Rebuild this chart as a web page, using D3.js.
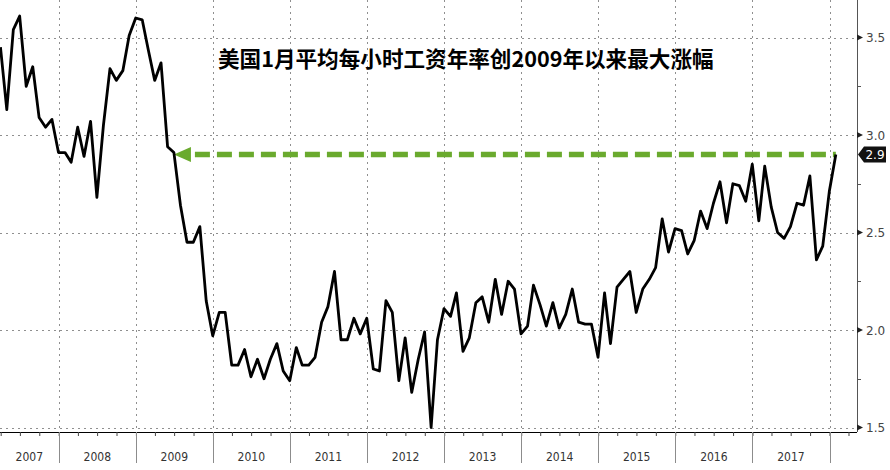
<!DOCTYPE html>
<html>
<head>
<meta charset="utf-8">
<script src="https://cdn.jsdelivr.net/npm/d3@7"></script>
<style>
  body { margin: 0; background: #fff; }
  svg { display: block; }
</style>
</head>
<body>
<svg id="chart" width="890" height="470"></svg>
<script>
// monthly series, first point is March 2007
const firstMonth = "2007-03";
const wages2007 = [3.45, 3.13, 3.54, 3.61, 3.25, 3.35, 3.09, 3.04, 3.08, 2.91];
const wages2008 = [2.91, 2.86, 3.04, 2.89, 3.07, 2.68, 3.05, 3.34, 3.28, 3.33, 3.51, 3.60];
const wages2009 = [3.59, 3.44, 3.28, 3.37, 2.94, 2.91, 2.64, 2.45, 2.45, 2.53, 2.15, 1.97];
const wages2010 = [2.09, 2.09, 1.82, 1.82, 1.90, 1.76, 1.85, 1.75, 1.85, 1.93, 1.79, 1.74];
const wages2011 = [1.91, 1.82, 1.82, 1.86, 2.04, 2.12, 2.30, 1.95, 1.95, 2.06, 1.98, 2.06];
const wages2012 = [1.80, 1.79, 2.15, 2.09, 1.74, 1.96, 1.68, 1.85, 1.99, 1.50, 1.95, 2.11];
const wages2013 = [2.07, 2.19, 1.89, 1.96, 2.14, 2.17, 2.04, 2.26, 2.08, 2.25, 2.21, 1.98];
const wages2014 = [2.02, 2.23, 2.13, 2.02, 2.14, 2.01, 2.08, 2.21, 2.04, 2.03, 2.03, 1.86];
const wages2015 = [2.19, 1.93, 2.22, 2.26, 2.30, 2.09, 2.21, 2.26, 2.32, 2.57, 2.40, 2.52];
const wages2016 = [2.51, 2.39, 2.46, 2.61, 2.52, 2.65, 2.76, 2.55, 2.75, 2.74, 2.66, 2.85];
const wages2017 = [2.56, 2.84, 2.63, 2.50, 2.47, 2.53, 2.65, 2.64, 2.79, 2.36, 2.43, 2.71];
const wages2018 = [2.90];

const yearLabels = ["2007", "2008", "2009", "2010", "2011", "2012", "2013", "2014", "2015", "2016", "2017"];
const yTicks = [1.5, 2.0, 2.5, 3.0, 3.5];
const arrowFrom = "2009-06";   // green arrow starts here
const arrowValue = 2.9;
const title = "美国1月平均每小时工资年率创2009年以来最大涨幅";

const values = [].concat(wages2007, wages2008, wages2009, wages2010, wages2011, wages2012,
  wages2013, wages2014, wages2015, wages2016, wages2017, wages2018);

const parseMonth = d3.timeParse("%Y-%m");
// points sit at the end of each month
const monthEnd = m => new Date(m.getFullYear(), m.getMonth() + 1, 0);
const start = parseMonth(firstMonth);
const data = values.map((v, i) => ({
  date: monthEnd(d3.timeMonth.offset(start, i)),
  value: v
}));

const svg = d3.select('#chart');
const plotRight = 857, plotBottom = 432;

const x = d3.scaleTime()
  .domain([new Date(2008, 0, 1), new Date(2018, 0, 1)])
  .range([58.7, 829.5]);
const y = d3.scaleLinear().domain([1.5, 3.5]).range([427.5, 37.5]);

const years = yearLabels.map(s => +s).concat([2018]).map(yr => new Date(yr, 0, 1));

// dotted grid
const grid = svg.append('g')
  .attr('stroke', '#8f8f8f')
  .attr('stroke-width', 1)
  .attr('stroke-dasharray', '2,4');
grid.selectAll('line.h').data(yTicks).enter().append('line')
  .attr('x1', 0).attr('x2', plotRight)
  .attr('y1', d => Math.round(y(d)) + 0.5).attr('y2', d => Math.round(y(d)) + 0.5);
grid.selectAll('line.v').data(years.filter(d => x(d) > 0)).enter().append('line')
  .attr('x1', d => Math.round(x(d)) + 0.5).attr('x2', d => Math.round(x(d)) + 0.5)
  .attr('y1', 0).attr('y2', plotBottom);

// clip for the line
svg.append('clipPath').attr('id', 'plot')
  .append('rect').attr('x', 0).attr('y', 0).attr('width', plotRight).attr('height', plotBottom);

// green dashed arrow
const ay = y(arrowValue);
const ax0 = x(monthEnd(parseMonth(arrowFrom)));
const ax1 = x(data[data.length - 1].date);
svg.append('line')
  .attr('x1', ax0 + 21).attr('x2', ax1)
  .attr('y1', ay).attr('y2', ay)
  .attr('stroke', '#6aaa2e')
  .attr('stroke-width', 5.5)
  .attr('stroke-dasharray', '15,7');
svg.append('path')
  .attr('d', `M${ax0},${ay} L${ax0 + 17},${ay - 7.5} L${ax0 + 17},${ay + 7.5} Z`)
  .attr('fill', '#6aaa2e');

// series
const line = d3.line().x(d => x(d.date)).y(d => y(d.value));
svg.append('path')
  .datum(data)
  .attr('clip-path', 'url(#plot)')
  .attr('d', line)
  .attr('fill', 'none')
  .attr('stroke', '#000')
  .attr('stroke-width', 2.8)
  .attr('stroke-linejoin', 'round');

// title
svg.append('text')
  .attr('x', 218).attr('y', 67)
  .text(title)
  .style('font-family', '"Noto Sans CJK SC", sans-serif')
  .style('font-weight', 'bold')
  .style('font-size', '21.6px')
  .attr('fill', '#000');

// bottom axis with quarterly ticks
const xAxis = d3.axisBottom(x.copy().domain([x.invert(0), x.invert(plotRight)]).range([0, plotRight]))
  .ticks(d3.timeMonth.every(3))
  .tickSize(4)
  .tickFormat('');
const gx = svg.append('g').attr('transform', `translate(0,${plotBottom})`).call(xAxis);
gx.select('.domain').attr('stroke', '#000').attr('d', `M0,0.5H${plotRight}`);
gx.selectAll('.tick line').attr('stroke', '#444');

// year separators and labels
svg.append('g').selectAll('line').data(years.filter(d => x(d) > 0)).enter().append('line')
  .attr('x1', d => Math.round(x(d)) + 0.5).attr('x2', d => Math.round(x(d)) + 0.5)
  .attr('y1', plotBottom).attr('y2', 463)
  .attr('stroke', '#8c8c8c');
svg.append('g').selectAll('text').data(yearLabels).enter().append('text')
  .attr('x', d => {
    const mid = x(new Date(+d, 6, 2));
    const left = Math.max(0, x(new Date(+d, 0, 1)));
    const right = x(new Date(+d + 1, 0, 1));
    return +d === 2007 ? (left + right) / 2 : mid;
  })
  .attr('y', 461)
  .attr('text-anchor', 'middle')
  .style('font-family', '"Liberation Sans Narrow", "DejaVu Sans Condensed", sans-serif')
  .style('font-size', '12px')
  .attr('fill', '#333')
  .text(d => d);

// right axis
const gy = svg.append('g').attr('transform', `translate(${plotRight},0)`);
gy.append('line')
  .attr('x1', 0.5).attr('x2', 0.5).attr('y1', 0).attr('y2', plotBottom)
  .attr('stroke', '#555');
gy.selectAll('line.minor').data([1.75, 2.25, 2.75, 3.25]).enter().append('line')
  .attr('x1', 0).attr('x2', 4)
  .attr('y1', d => Math.round(y(d)) + 0.5).attr('y2', d => Math.round(y(d)) + 0.5)
  .attr('stroke', '#555');
gy.selectAll('path.tri').data(yTicks).enter().append('path')
  .attr('d', d => `M0,${y(d) - 3} L6,${y(d)} L0,${y(d) + 3} Z`)
  .attr('fill', '#222');
gy.selectAll('text').data(yTicks).enter().append('text')
  .attr('x', 9).attr('y', d => y(d) + 4.5)
  .style('font-family', '"DejaVu Sans", sans-serif')
  .style('font-size', '12px')
  .attr('fill', '#444')
  .text(d => d3.format('.1f')(d));

// last value tag
const last = data[data.length - 1].value;
const ly = y(last);
svg.append('path')
  .attr('d', `M${plotRight + 1},${ly} L${plotRight + 7},${ly - 8} L${plotRight + 29},${ly - 8} L${plotRight + 29},${ly + 8} L${plotRight + 7},${ly + 8} Z`)
  .attr('fill', '#111');
svg.append('text')
  .attr('x', plotRight + 18).attr('y', ly + 4.5)
  .attr('text-anchor', 'middle')
  .style('font-family', '"DejaVu Sans", sans-serif')
  .style('font-size', '12px')
  .attr('fill', '#fff')
  .text(d3.format('.1f')(last));
</script>
</body>
</html>
